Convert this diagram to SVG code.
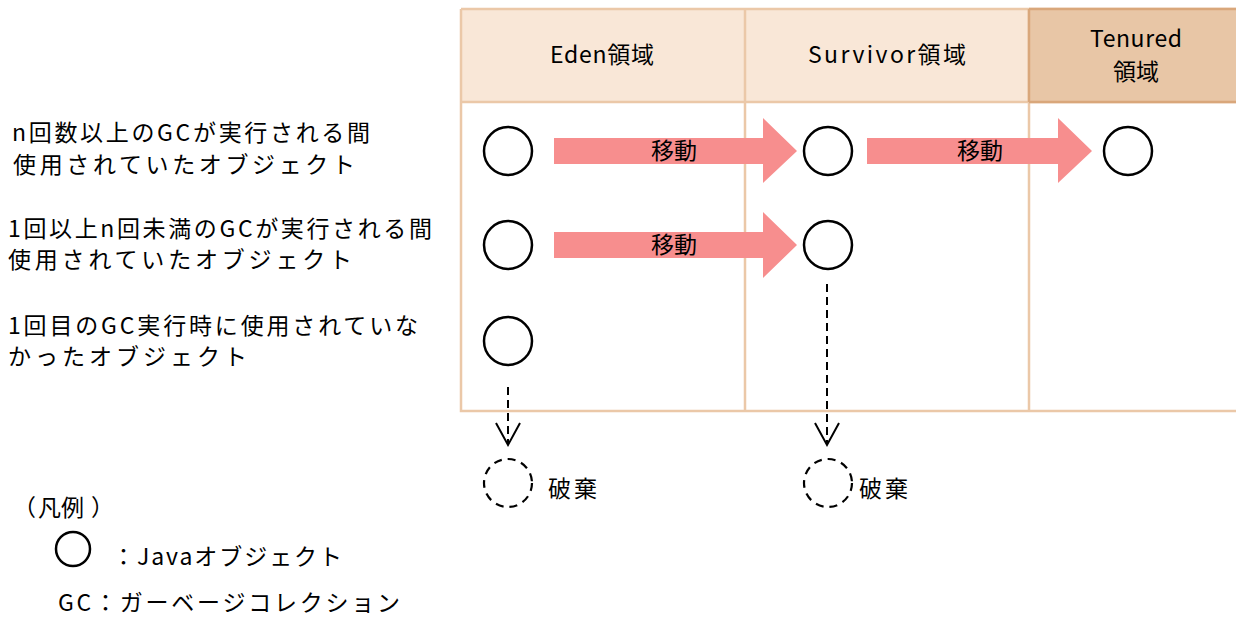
<svg xmlns="http://www.w3.org/2000/svg" width="1236" height="617" viewBox="0 0 1236 617">
<style>
text{font-family:"Noto Sans CJK JP","Noto Sans",sans-serif;fill:#000}
.lbl{font-size:23px}
.hdr{font-size:23px}
.obj{fill:none;stroke:#000;stroke-width:2.5}
.gone{fill:none;stroke:#000;stroke-width:2.2;stroke-dasharray:8,6}
.mv{fill:#f78e8e}
.grid{stroke:#ebc8a8;stroke-width:2.5;fill:none}
.dash{stroke:#000;stroke-width:2;stroke-dasharray:8,5;fill:none}
.head{stroke:#000;stroke-width:2;fill:none}
</style>
<rect width="1236" height="617" fill="#fff"/>
<g id="table">
<rect x="461" y="9" width="568" height="93" fill="#f9e7d7"/>
<rect x="1029" y="9" width="210" height="93" fill="#e8c6a6"/>
<path class="grid" d="M461 9H1240M461 102H1240M461 9V411H1240M745 9V411M1029 9V411"/>
<path d="M1029 9H1240M1029 102H1240M1029 9V102" stroke="#d9a77b" stroke-width="2.5" fill="none"/>
</g>
<g id="headers">
<text class="hdr" x="602" y="63" text-anchor="middle" textLength="104" lengthAdjust="spacing">Eden領域</text>
<text class="hdr" x="887" y="63" text-anchor="middle" textLength="158" lengthAdjust="spacing">Survivor領域</text>
<text class="hdr" x="1136" y="47" text-anchor="middle" textLength="92" lengthAdjust="spacing">Tenured</text>
<text class="hdr" x="1136" y="80" text-anchor="middle">領域</text>
</g>
<g id="row-labels">
<text class="lbl" x="12" y="141" textLength="358" lengthAdjust="spacing">n回数以上のGCが実行される間</text>
<text class="lbl" x="13" y="173" textLength="342" lengthAdjust="spacing">使用されていたオブジェクト</text>
<text class="lbl" x="8" y="237" textLength="424" lengthAdjust="spacing">1回以上n回未満のGCが実行される間</text>
<text class="lbl" x="8" y="268" textLength="344" lengthAdjust="spacing">使用されていたオブジェクト</text>
<text class="lbl" x="8" y="334" textLength="410" lengthAdjust="spacing">1回目のGC実行時に使用されていな</text>
<text class="lbl" x="8" y="365" textLength="239" lengthAdjust="spacing">かったオブジェクト</text>
</g>
<g id="connectors">
<g id="move-1">
<polygon class="mv" points="554,138 763,138 763,118 797,151 763,183 763,164 554,164"/>
<text class="lbl" x="674" y="159" text-anchor="middle">移動</text>
</g>
<g id="move-2">
<polygon class="mv" points="867,138 1058,138 1058,118 1092,151 1058,183 1058,164 867,164"/>
<text class="lbl" x="980" y="159" text-anchor="middle">移動</text>
</g>
<g id="move-3">
<polygon class="mv" points="554,232 763,232 763,212 797,245 763,278 763,258 554,258"/>
<text class="lbl" x="674" y="253" text-anchor="middle">移動</text>
</g>
<g id="discard-eden">
<path class="dash" d="M508 387V443"/>
<path class="head" d="M496 423L508 445L520 423"/>
</g>
<g id="discard-survivor">
<path class="dash" d="M827 284V443"/>
<path class="head" d="M815 423L827 445L839 423"/>
</g>
</g>
<g id="objects">
<circle id="eden-1" class="obj" cx="508" cy="151" r="24"/>
<circle id="eden-2" class="obj" cx="508" cy="245" r="24"/>
<circle id="eden-3" class="obj" cx="508" cy="341" r="24"/>
<circle id="survivor-1" class="obj" cx="828" cy="151" r="24"/>
<circle id="survivor-2" class="obj" cx="828" cy="245" r="24"/>
<circle id="tenured-1" class="obj" cx="1128" cy="151" r="24"/>
</g>
<g id="discarded-eden">
<circle class="gone" cx="508" cy="483" r="24"/>
<text class="lbl" x="548" y="497" textLength="49" lengthAdjust="spacing">破棄</text>
</g>
<g id="discarded-survivor">
<circle class="gone" cx="828" cy="483" r="24"/>
<text class="lbl" x="859" y="497" textLength="49" lengthAdjust="spacing">破棄</text>
</g>
<g id="legend">
<text class="lbl" y="516"><tspan x="13">（</tspan><tspan x="38">凡例</tspan><tspan x="91">）</tspan></text>
<circle class="obj" cx="73" cy="549" r="17"/>
<text class="lbl" x="112" y="565" textLength="230" lengthAdjust="spacing">：Javaオブジェクト</text>
<text class="lbl" x="58" y="611" textLength="342" lengthAdjust="spacing">GC：ガーベージコレクション</text>
</g>
</svg>
